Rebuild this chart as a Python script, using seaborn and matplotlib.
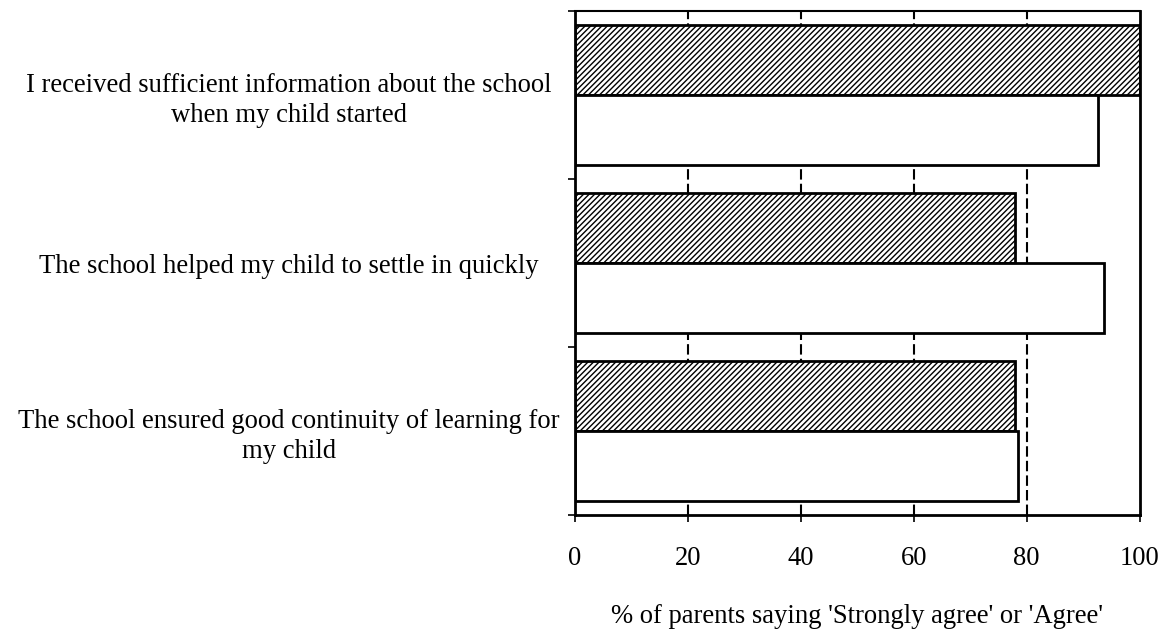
import matplotlib.pyplot as plt
import pandas as pd
import seaborn as sns

statements = [
    "I received sufficient information about the school\nwhen my child started",
    "The school helped my child to settle in quickly",
    "The school ensured good continuity of learning for\nmy child",
]
series_names = ["School", "All schools"]
school_values = [100.0, 78.0, 78.0]
all_schools_values = [92.7, 93.7, 78.4]
x_ticks = [0, 20, 40, 60, 80, 100]
x_label = "% of parents saying 'Strongly agree' or 'Agree'"

df = pd.DataFrame({
    "statement": statements * 2,
    "group": [series_names[0]] * 3 + [series_names[1]] * 3,
    "pct": school_values + all_schools_values,
})

sns.set_theme(style="white")
plt.rcParams["font.family"] = ["Liberation Serif", "DejaVu Serif"]
plt.rcParams["hatch.linewidth"] = 1.0
plt.rcParams["text.color"] = "black"
plt.rcParams["xtick.color"] = "black"
plt.rcParams["ytick.color"] = "black"
plt.rcParams["axes.labelcolor"] = "black"

fig = plt.figure(figsize=(11.68, 6.33), dpi=100)
ax = fig.add_axes([0.4923, 0.1864, 0.4833, 0.7962])

# dashed vertical gridlines behind the bars
for x in x_ticks[1:-1]:
    ax.axvline(x, color="black", linestyle=(0, (5, 2)), linewidth=1.5, zorder=0)

sns.barplot(
    data=df, y="statement", x="pct", hue="group", order=statements,
    hue_order=series_names, palette=["white", "white"], edgecolor="black",
    linewidth=2, width=0.83, legend=False, ax=ax, zorder=2,
)

n = len(statements)
for i, patch in enumerate(ax.patches):
    if i < n:
        patch.set_hatch("//////")

fs = 19.2
ax.set_xlim(0, 100)
ax.set_ylim(n - 0.5, -0.5)
ax.set_xticks(x_ticks)
ax.set_yticks([i - 0.5 for i in range(n + 1)], minor=True)
ax.set_yticks(range(n))
ax.set_yticklabels(statements, ha="center", multialignment="center", linespacing=1.28)
ax.tick_params(axis="y", which="major", length=0, pad=206, labelsize=fs)
ax.tick_params(axis="y", which="minor", left=True, length=5, width=1.2, color="black")
ax.tick_params(axis="x", bottom=True, length=5, width=1.2, color="black",
               labelsize=fs, pad=17)
ax.set_xlabel(x_label, fontsize=fs, labelpad=24)
ax.set_ylabel("")

for side in ["left", "bottom", "right", "top"]:
    ax.spines[side].set_visible(True)
    ax.spines[side].set_color("black")
    ax.spines[side].set_linewidth(2)
ax.spines["top"].set_linewidth(1.5)

fig.savefig("out.png", dpi=100)
